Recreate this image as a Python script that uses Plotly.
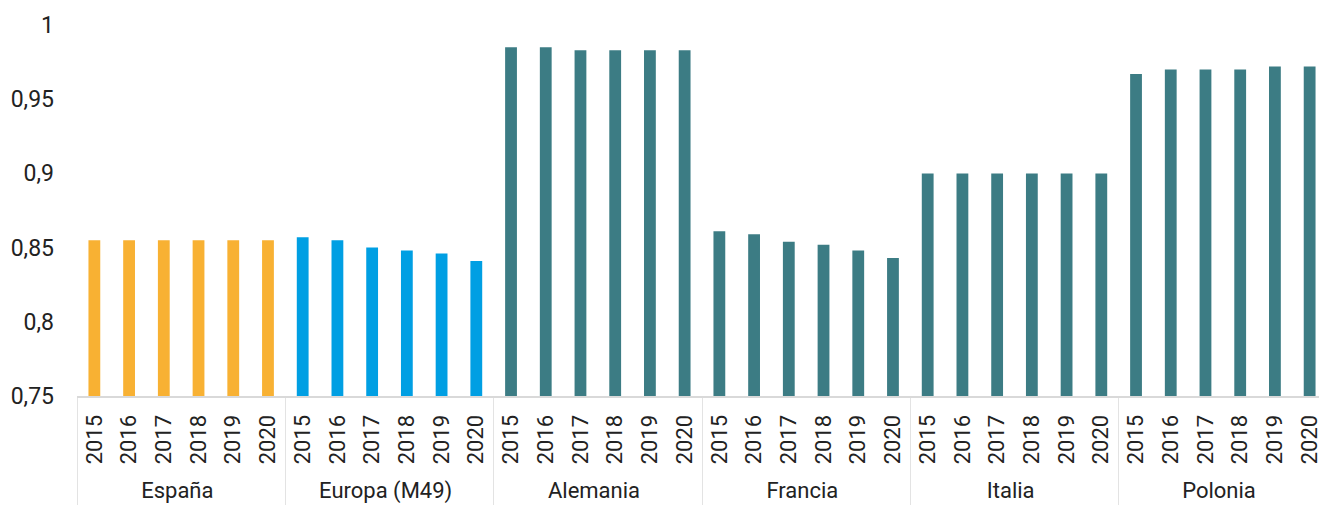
import plotly.graph_objects as go

years = ["2015", "2016", "2017", "2018", "2019", "2020"]
regions = ["España", "Europa (M49)", "Alemania", "Francia", "Italia", "Polonia"]
values = {
    "España":       [0.855, 0.855, 0.855, 0.855, 0.855, 0.855],
    "Europa (M49)": [0.857, 0.855, 0.850, 0.848, 0.846, 0.841],
    "Alemania":     [0.985, 0.985, 0.983, 0.983, 0.983, 0.983],
    "Francia":      [0.861, 0.859, 0.854, 0.852, 0.848, 0.843],
    "Italia":       [0.900, 0.900, 0.900, 0.900, 0.900, 0.900],
    "Polonia":      [0.967, 0.970, 0.970, 0.970, 0.972, 0.972],
}
colors = {
    "España": "#F8B133",
    "Europa (M49)": "#009FE3",
    "Alemania": "#3C7C84",
    "Francia": "#3C7C84",
    "Italia": "#3C7C84",
    "Polonia": "#3C7C84",
}

x_outer, x_inner, y, c = [], [], [], []
for r in regions:
    for yr, v in zip(years, values[r]):
        x_outer.append(r)
        x_inner.append(yr)
        y.append(v)
        c.append(colors[r])

font_family = "Roboto, Open Sans, sans-serif"

fig = go.Figure(go.Bar(
    x=[x_outer, x_inner],
    y=y,
    marker=dict(color=c, line=dict(width=0)),
))

# page body adds an 8px offset; figure sized to fit the 1327x512 window
fig.update_layout(
    width=1319, height=504,
    margin=dict(l=69, r=0, t=17, b=116),
    plot_bgcolor="white", paper_bgcolor="white",
    separators=",.",
    bargap=0.66,
    showlegend=False,
    font=dict(family=font_family, size=22, color="#222222"),
    xaxis=dict(
        type="multicategory",
        automargin=False,
        tickangle=-90,
        showline=True, linecolor="#D9D9D9", linewidth=2,
        showgrid=False,
        ticks="",
        ticklabelstandoff=8,
        showdividers=True, dividercolor="#E3E3E3", dividerwidth=1,
        tickfont=dict(family=font_family, size=22, color="#222222"),
    ),
    yaxis=dict(
        automargin=False,
        range=[0.75, 1.0],
        dtick=0.05, tick0=0.75,
        showgrid=False, zeroline=False, showline=False,
        ticks="", ticklabelstandoff=22,
        tickfont=dict(family=font_family, size=23, color="#222222"),
    ),
)

fig.write_html("out.html")
